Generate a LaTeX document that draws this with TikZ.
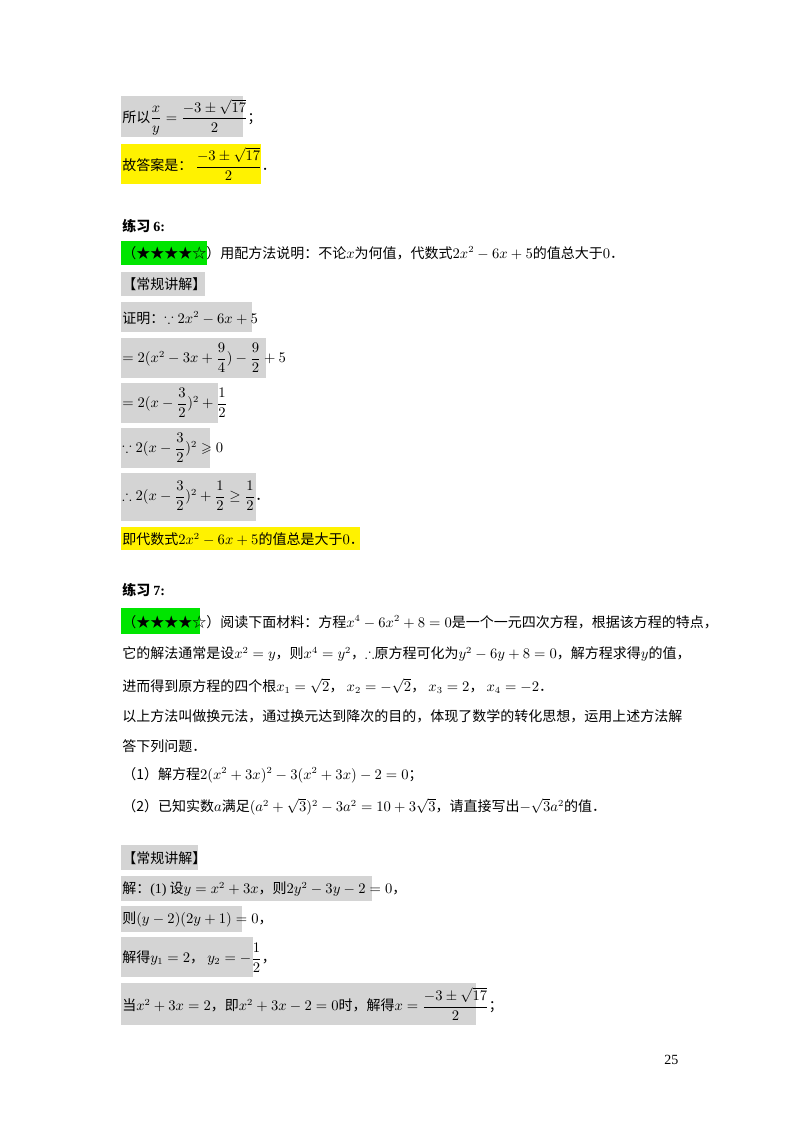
\documentclass[tikz,border=0pt]{standalone}
\usepackage{amsmath,amssymb}
\usepackage{fontspec}
\setmainfont{Liberation Serif}
\newfontfamily\cjk{Noto Sans CJK SC}
\begin{document}
\begin{tikzpicture}[x=0.75pt,y=-0.75pt,
  t/.style={anchor=west,inner sep=0pt,font=\cjk\fontsize{10.5}{12}\selectfont},
  bx/.style={fill=black!17,draw=none},
  yb/.style={fill=yellow,draw=none},
  gb/.style={fill=green!90!black,draw=none}]
\useasboundingbox (0,0) rectangle (800,1132);
\fill[white] (0,0) rectangle (800,1132);
% boxes
\path[bx] (121,96) rectangle (243,137);
\path[yb] (121,144) rectangle (261,184);
\path[gb] (121,241) rectangle (207,265);
\path[bx] (121,272) rectangle (205,296);
\path[bx] (121,302) rectangle (252,332);
\path[bx] (121,338) rectangle (266,378);
\path[bx] (121,383) rectangle (218,423);
\path[bx] (121,428) rectangle (210,468);
\path[bx] (121,473) rectangle (256,521);
\path[yb] (121,527) rectangle (360,550);
\path[gb] (121,608) rectangle (200,634);
\path[bx] (121,845) rectangle (198,870);
\path[bx] (121,876) rectangle (372,901);
\path[bx] (121,906) rectangle (242,932);
\path[bx] (121,937) rectangle (253,977);
\path[bx] (121,983) rectangle (476,1025);
% texts
\node[t] (a1) at (122,117) {所以$\dfrac{x}{y}=\dfrac{-3\pm\sqrt{17}}{2}$；};
\node[t] (a2) at (122,164) {故答案是：$\ \dfrac{-3\pm\sqrt{17}}{2}$．};
\node[t] (h6) at (122,226) {\textbf{练习 {\rmfamily 6:}}};
\node[t] (q6) at (122,253) {（★★★★☆）用配方法说明：不论$x$为何值，代数式$2x^2-6x+5$的值总大于$0$．};
\node[t] (c1) at (122,284) {【常规讲解】};
\node[t] (p1) at (122,318) {证明：$\because 2x^2-6x+5$};
\node[t] (p2) at (122,358) {$=2(x^2-3x+\dfrac94)-\dfrac92+5$};
\node[t] (p3) at (122,403) {$=2(x-\dfrac32)^2+\dfrac12$};
\node[t] (p4) at (122,448) {$\because 2(x-\dfrac32)^2\geqslant0$};
\node[t] (p5) at (122,496) {$\therefore 2(x-\dfrac32)^2+\dfrac12\geq\dfrac12$．};
\node[t] (p6) at (122,539) {即代数式$2x^2-6x+5$的值总是大于$0$．};
\node[t] (h7) at (122,590) {\textbf{练习 {\rmfamily 7:}}};
\node[t] (q7a) at (122,622) {（★★★★☆）阅读下面材料：方程$x^4-6x^2+8=0$是一个一元四次方程，根据该方程的特点，};
\node[t] (q7b) at (122,654) {它的解法通常是设$x^2=y$，则$x^4=y^2$，$\therefore$原方程可化为$y^2-6y+8=0$，解方程求得$y$的值，};
\node[t] (q7c) at (122,686) {进而得到原方程的四个根$x_1=\sqrt2$，\ $x_2=-\sqrt2$，\ $x_3=2$，\ $x_4=-2$．};
\node[t] (q7d) at (122,716) {以上方法叫做换元法，通过换元达到降次的目的，体现了数学的转化思想，运用上述方法解};
\node[t] (q7e) at (122,746) {答下列问题．};
\node[t] (q71) at (122,775) {（1）解方程$2(x^2+3x)^2-3(x^2+3x)-2=0$；};
\node[t] (q72) at (122,807) {（2）已知实数$a$满足$(a^2+\sqrt3)^2-3a^2=10+3\sqrt3$，请直接写出$-\sqrt3a^2$的值．};
\node[t] (c2) at (122,858) {【常规讲解】};
\node[t] (s1) at (122,889) {解：{\rmfamily (1)} 设$y=x^2+3x$，则$2y^2-3y-2=0$，};
\node[t] (s2) at (122,919) {则$(y-2)(2y+1)=0$，};
\node[t] (s3) at (122,958) {解得$y_1=2$，\ $y_2=-\dfrac12$，};
\node[t] (s4) at (122,1004) {当$x^2+3x=2$，即$x^2+3x-2=0$时，解得$x=\dfrac{-3\pm\sqrt{17}}{2}$；};
\node[t,font=\rmfamily\fontsize{10.5}{12}\selectfont] (pg) at (664,1060) {25};
\end{tikzpicture}
\end{document}
